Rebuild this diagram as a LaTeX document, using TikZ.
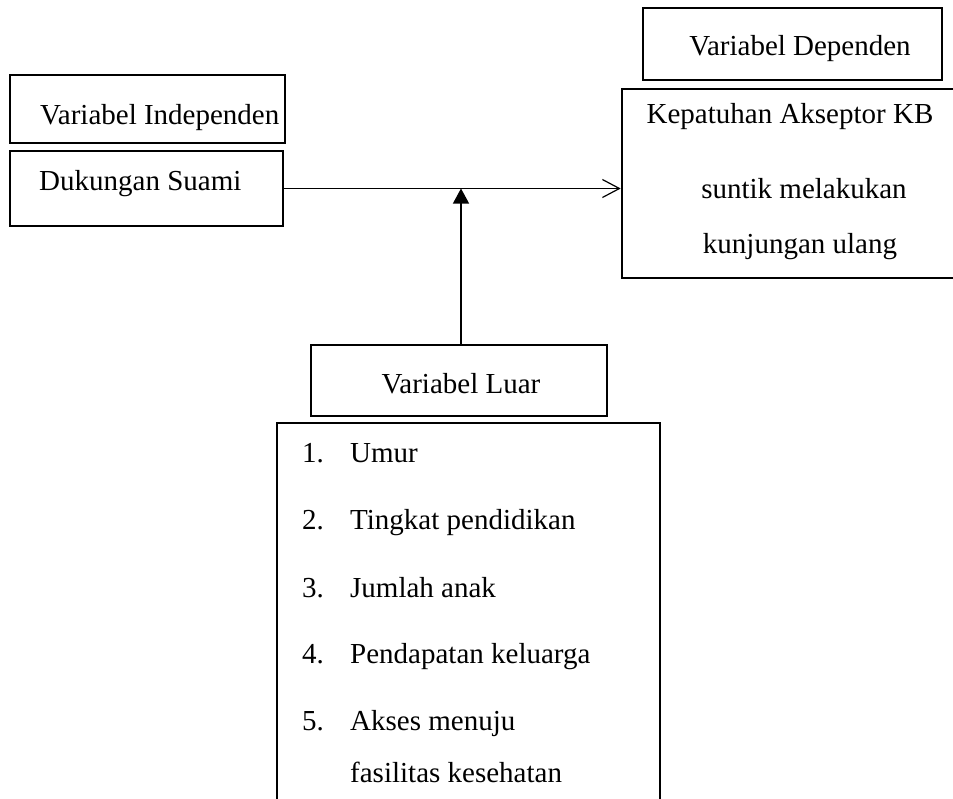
\documentclass[tikz,border=0pt]{standalone}
\usepackage{fontspec}
\setmainfont{Liberation Serif}
\usetikzlibrary{arrows.meta,positioning}

\tikzset{
	kotak/.style={draw, line width=2.6pt, inner sep=0pt},
	teks/.style={inner sep=0pt, font=\fontsize{29}{35}\selectfont},
	garis/.style={line width=1.2pt}
}

\begin{document}
\begin{tikzpicture}[x=1pt,y=-1pt]

	\useasboundingbox (0,0) rectangle (953,798);
	\clip (0,0) rectangle (953,798);

	% kotak-kotak
	\node (VI)[kotak, minimum width=275pt, minimum height=68pt] at (147.5,109) {};
	\node (DS)[kotak, minimum width=273pt, minimum height=75pt] at (146.5,188.5) {};
	\node (VD)[kotak, minimum width=299pt, minimum height=72pt] at (792.5,44) {};
	\node (KP)[kotak, minimum width=353pt, minimum height=189pt] at (798.5,183.5) {}; % sisi kanan terpotong
	\node (VL)[kotak, minimum width=296pt, minimum height=71pt] at (459,380.5) {};
	\node (LS)[kotak, minimum width=383pt, minimum height=407pt] at (468.5,626.5) {}; % sisi bawah terpotong

	% tulisan
	\node (tVI)[teks, anchor=base west] at (40,124) {Variabel Independen};
	\node (tDS)[teks, anchor=base west] at (39,190) {Dukungan Suami};
	\node (tVD)[teks, anchor=base] at (800,55) {Variabel Dependen};
	\node (tKP1)[teks, anchor=base] at (790,123) {Kepatuhan Akseptor KB};
	\node (tKP2)[teks, anchor=base] at (804,198) {suntik melakukan};
	\node (tKP3)[teks, anchor=base] at (800,253) {kunjungan ulang};
	\node (tVL)[teks, anchor=base] at (461,393) {Variabel Luar};

	\foreach \n/\isi/\y in {1/Umur/462, 2/Tingkat pendidikan/529, 3/Jumlah anak/597, 4/Pendapatan keluarga/663, 5/Akses menuju/730}{
		\node (no\n)[teks, anchor=base west] at (302,\y) {\n.};
		\node (isi\n)[teks, anchor=base west] at (350,\y) {\isi};
	}
	\node (isi6)[teks, anchor=base west] at (350,782) {fasilitas kesehatan};

	% panah
	\coordinate (temu) at (461,188.5);
	\draw [garis, -{Straight Barb[length=17pt,width=18pt]}] (DS.east) to (KP.west |- DS.east);
	\draw [garis, -{Triangle[length=15pt,width=16pt]}] (temu |- VL.north) to (temu);

\end{tikzpicture}
\end{document}
